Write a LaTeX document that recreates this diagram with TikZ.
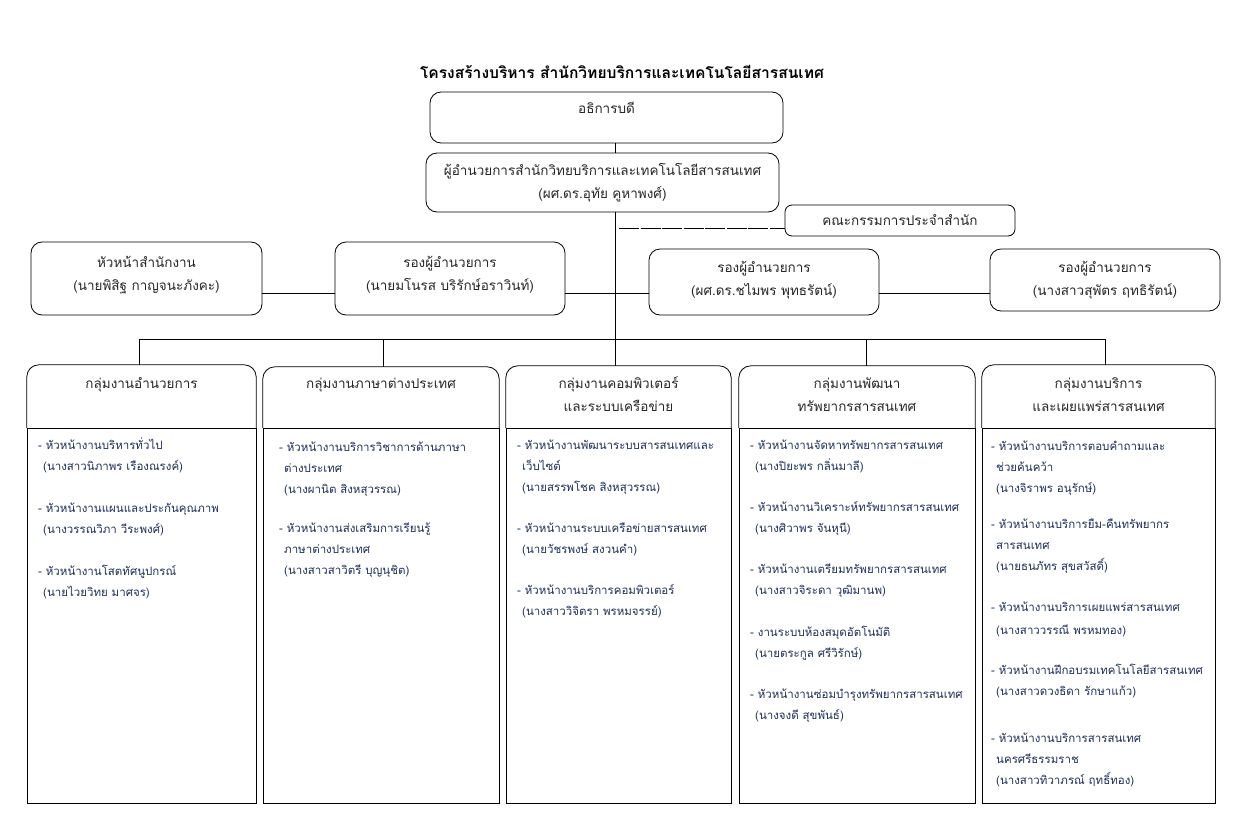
\documentclass[tikz,border=0pt]{standalone}
\usepackage{fontspec}
\setmainfont{Loma}[Script=Thai]
\definecolor{itemc}{HTML}{1F3056}
\definecolor{hdrc}{HTML}{262626}
\newcommand{\clines}[1]{\begin{tabular}[t]{@{}c@{}}#1\end{tabular}}
\newcommand{\llines}[1]{\begin{tabular}[t]{@{}l@{}}#1\end{tabular}}
\newcommand{\ind}{\hspace*{5pt}}
\begin{document}
\begin{tikzpicture}[x=1pt,y=-1pt,
 ln/.style={line width=0.8pt},
 rbox/.style={draw, line width=0.8pt, rounded corners=11pt, inner sep=0pt},
 hbox/.style={inner sep=0pt},
 bbox/.style={draw, line width=0.8pt, inner sep=0pt},
 txt/.style={font=\fontsize{13.5}{23}\selectfont, text=hdrc, inner sep=0pt, anchor=base},
 itm/.style={font=\fontsize{11.5}{21}\selectfont, text=itemc, inner sep=0pt, anchor=base west},
 dashline/.style={line width=0.8pt, dash pattern=on 20pt off 1.5pt}]
\useasboundingbox (0,0) rectangle (1246,827);

\node[font=\bfseries\fontsize{15.6}{18}\selectfont, anchor=base, inner sep=0pt] (title) at (622,78) {โครงสร้างบริหาร สำนักวิทยบริการและเทคโนโลยีสารสนเทศ};

\node[rbox, minimum width=353pt, minimum height=51pt] (rector) at (606.5,117.5) {};
\node[txt] (rectorT) at (606.5,113) {อธิการบดี};

\node[rbox, minimum width=353pt, minimum height=59pt] (dir) at (602.5,182.5) {};
\node[txt] (dirT) at (602.5,175) {\clines{ผู้อำนวยการสำนักวิทยบริการและเทคโนโลยีสารสนเทศ\\(ผศ.ดร.อุทัย คูหาพงศ์)}};

\node[rbox, minimum width=230pt, minimum height=31pt, rounded corners=7pt] (comm) at (900,220.5) {};
\node[txt] (commT) at (900,225) {คณะกรรมการประจำสำนัก};

\node[rbox, minimum width=231pt, minimum height=73pt] (off) at (146.5,278.5) {};
\node[txt] (offT) at (146.5,267) {\clines{หัวหน้าสำนักงาน\\(นายพิสิฐ กาญจนะภังคะ)}};
\node[rbox, minimum width=230pt, minimum height=73pt] (dep1) at (450,278.5) {};
\node[txt] (dep1T) at (450,267) {\clines{รองผู้อำนวยการ\\(นายมโนรส บริรักษ์อราวินท์)}};
\node[rbox, minimum width=230pt, minimum height=66pt] (dep2) at (764,282) {};
\node[txt] (dep2T) at (764,272) {\clines{รองผู้อำนวยการ\\(ผศ.ดร.ชไมพร พุทธรัตน์)}};
\node[rbox, minimum width=230pt, minimum height=62pt] (dep3) at (1105,280) {};
\node[txt] (dep3T) at (1105,272) {\clines{รองผู้อำนวยการ\\(นางสาวสุพัตร ฤทธิรัตน์)}};

\coordinate (spine) at (615,339);
\coordinate (rowl) at (615,293);
\coordinate (cline) at (619,228);
\draw[ln] (rector.south -| spine) -- (dir.north -| spine);
\draw[ln] (dir.south -| spine) -- (spine);
\draw[dashline] (cline) -- (comm.west |- cline);
\draw[ln] (off.east |- rowl) -- (dep1.west |- rowl);
\draw[ln] (dep1.east |- rowl) -- (dep2.west |- rowl);
\draw[ln] (dep2.east |- rowl) -- (dep3.west |- rowl);

% groups
\node[hbox, minimum width=229pt, minimum height=63pt] (h1) at (141.5,396.5) {};
\node[hbox, minimum width=236pt, minimum height=61pt] (h2) at (381,397.5) {};
\node[hbox, minimum width=225pt, minimum height=62pt] (h3) at (618.5,397) {};
\node[hbox, minimum width=236pt, minimum height=62pt] (h4) at (857,397) {};
\node[hbox, minimum width=233pt, minimum height=63pt] (h5) at (1098.5,396.5) {};
\foreach \h in {h1,h2,h3,h4,h5}
  \draw[ln, rounded corners=12pt] (\h.south west) -- (\h.north west) -- (\h.north east) -- (\h.south east);
\node[bbox, minimum width=229pt, minimum height=375pt] (b1) at (141.5,615.5) {};
\node[bbox, minimum width=236pt, minimum height=375pt] (b2) at (381,615.5) {};
\node[bbox, minimum width=225pt, minimum height=375pt] (b3) at (618.5,615.5) {};
\node[bbox, minimum width=236pt, minimum height=375pt] (b4) at (857,615.5) {};
\node[bbox, minimum width=233pt, minimum height=375pt] (b5) at (1098.5,615.5) {};

\coordinate (d1) at (139,339);
\coordinate (d2) at (383,339);
\coordinate (d3) at (615,339);
\coordinate (d4) at (866,339);
\coordinate (d5) at (1105,339);
\draw[ln] (d1) -- (d5);
\foreach \d/\h in {d1/h1,d2/h2,d3/h3,d4/h4,d5/h5}
  \draw[ln] (\d) -- (\d |- \h.north);

\node[txt] (h1T) at (141.5,388) {กลุ่มงานอำนวยการ};
\node[txt] (h2T) at (381,388) {กลุ่มงานภาษาต่างประเทศ};
\node[txt] (h3T) at (618.5,388) {\clines{กลุ่มงานคอมพิวเตอร์\\และระบบเครือข่าย}};
\node[txt] (h4T) at (857,388) {\clines{กลุ่มงานพัฒนา\\ทรัพยากรสารสนเทศ}};
\node[txt] (h5T) at (1098.5,388) {\clines{กลุ่มงานบริการ\\และเผยแพร่สารสนเทศ}};

\node[itm] (l1) at (38,449) {\llines{- หัวหน้างานบริหารทั่วไป\\
\ind(นางสาวนิภาพร เรืองณรงค์)\\[21pt]
- หัวหน้างานแผนและประกันคุณภาพ\\
\ind(นางวรรณวิภา วีระพงศ์)\\[21pt]
- หัวหน้างานโสตทัศนูปกรณ์\\
\ind(นายไวยวิทย มาศจร)}};

\node[itm] (l2) at (279,451) {\llines{- หัวหน้างานบริการวิชาการด้านภาษา\\
\ind ต่างประเทศ\\
\ind(นางผานิต สิงหสุวรรณ)\\[18pt]
- หัวหน้างานส่งเสริมการเรียนรู้\\
\ind ภาษาต่างประเทศ\\
\ind(นางสาวสาวิตรี บุญนุชิต)}};

\node[itm] (l3) at (517,449) {\llines{- หัวหน้างานพัฒนาระบบสารสนเทศและ\\
\ind เว็บไซต์\\
\ind(นายสรรพโชค สิงหสุวรรณ)\\[20pt]
- หัวหน้างานระบบเครือข่ายสารสนเทศ\\
\ind(นายวัชรพงษ์ สงวนคำ)\\[20pt]
- หัวหน้างานบริการคอมพิวเตอร์\\
\ind(นางสาววิจิตรา พรหมจรรย์)}};

\node[itm] (l4) at (750,449) {\llines{- หัวหน้างานจัดหาทรัพยากรสารสนเทศ\\
\ind(นางปิยะพร กลิ่นมาลี)\\[20pt]
- หัวหน้างานวิเคราะห์ทรัพยากรสารสนเทศ\\
\ind(นางศิวาพร จันหุนี)\\[20pt]
- หัวหน้างานเตรียมทรัพยากรสารสนเทศ\\
\ind(นางสาวจิระดา วุฒิมานพ)\\[21pt]
- งานระบบห้องสมุดอัตโนมัติ\\
\ind(นายตระกูล ศรีวิรักษ์)\\[20pt]
- หัวหน้างานซ่อมบำรุงทรัพยากรสารสนเทศ\\
\ind(นางจงดี สุขพันธ์)}};

\node[itm] (l5) at (991,450) {\llines{- หัวหน้างานบริการตอบคำถามและ\\
\ind ช่วยค้นคว้า\\
\ind(นางจิราพร อนุรักษ์)\\[15pt]
- หัวหน้างานบริการยืม-คืนทรัพยากร\\
\ind สารสนเทศ\\
\ind(นายธนภัทร สุขสวัสดิ์)\\[20pt]
- หัวหน้างานบริการเผยแพร่สารสนเทศ\\[2pt]
\ind(นางสาววรรณี พรหมทอง)\\[19pt]
- หัวหน้างานฝึกอบรมเทคโนโลยีสารสนเทศ\\
\ind(นางสาวดวงธิดา รักษาแก้ว)\\[26pt]
- หัวหน้างานบริการสารสนเทศ\\
\ind นครศรีธรรมราช\\
\ind(นางสาวทิวาภรณ์ ฤทธิ์ทอง)}};
\end{tikzpicture}
\end{document}
